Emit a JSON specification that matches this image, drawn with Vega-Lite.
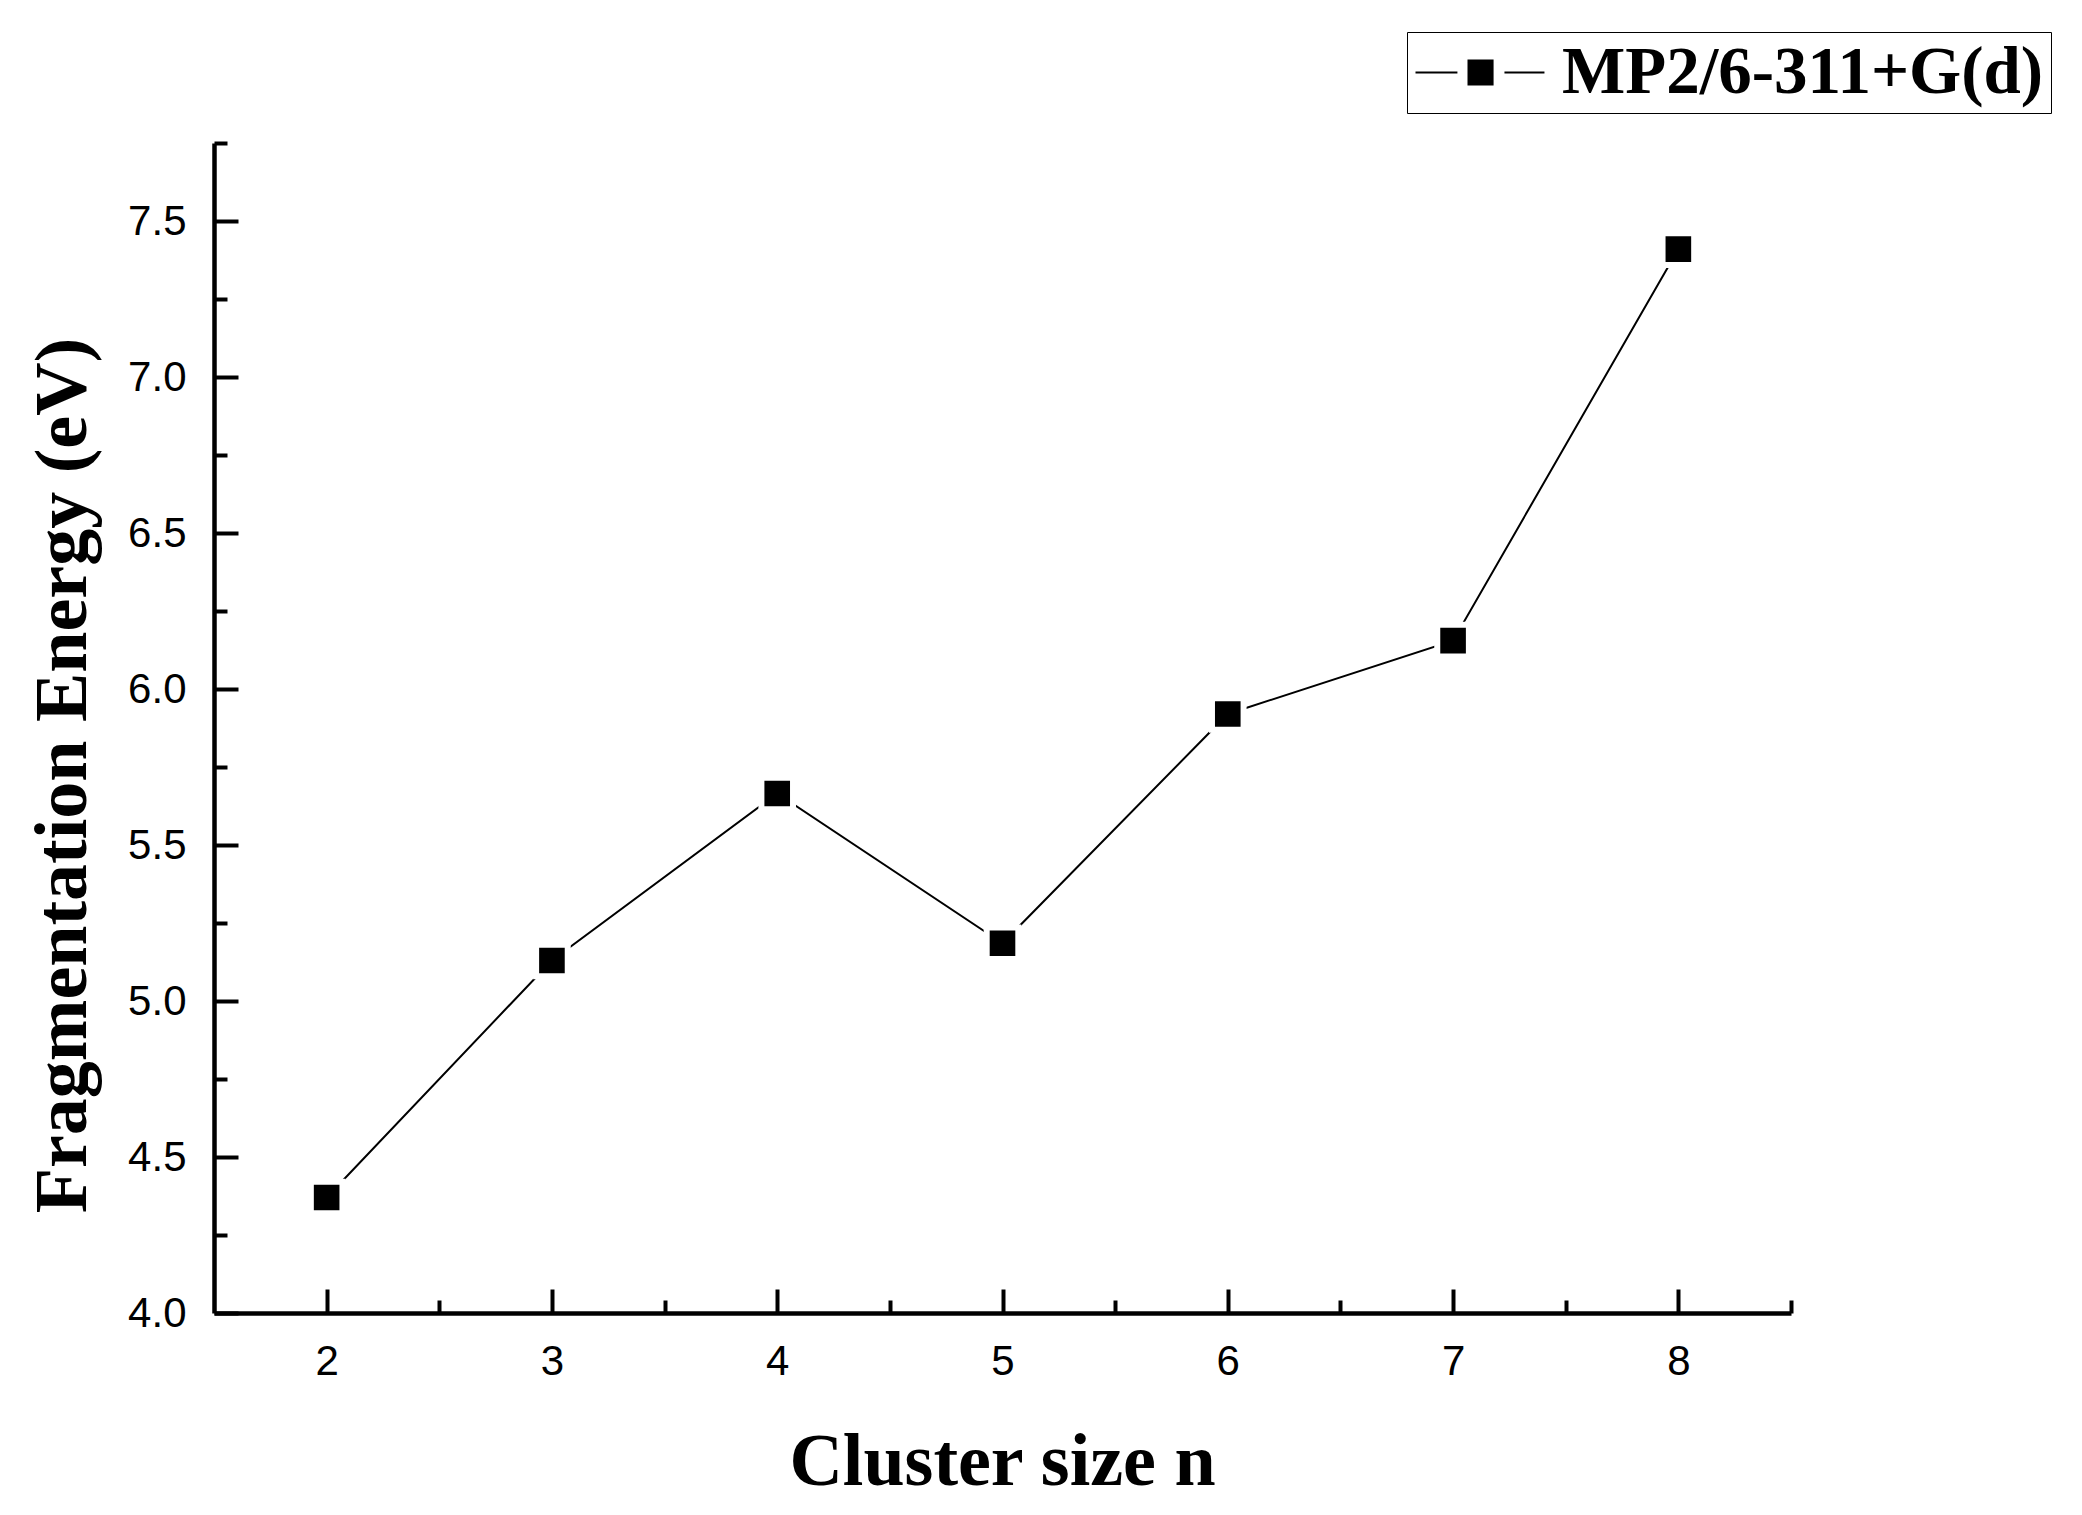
{
  "$schema": "https://vega.github.io/schema/vega-lite/v6.json",
  "autosize": {"type": "none"},
  "width": 1577,
  "height": 1170,
  "padding": {"left": 214, "top": 143, "right": 291, "bottom": 202},
  "background": "white",
  "config": {
    "view": {"stroke": null},
    "axis": {"grid": false, "domainColor": "black", "tickColor": "black", "labelColor": "black", "titleColor": "black"}
  },
  "data": {
    "values": [
      {"n": 2, "energy": 4.37, "method": "MP2/6-311+G(d)"},
      {"n": 3, "energy": 5.13, "method": "MP2/6-311+G(d)"},
      {"n": 4, "energy": 5.665, "method": "MP2/6-311+G(d)"},
      {"n": 5, "energy": 5.185, "method": "MP2/6-311+G(d)"},
      {"n": 6, "energy": 5.92, "method": "MP2/6-311+G(d)"},
      {"n": 7, "energy": 6.155, "method": "MP2/6-311+G(d)"},
      {"n": 8, "energy": 7.41, "method": "MP2/6-311+G(d)"}
    ]
  },
  "resolve": {"axis": {"x": "independent", "y": "independent"}},
  "layer": [
    {
      "mark": {"type": "line", "strokeWidth": 2, "color": "black"},
      "encoding": {
        "x": {
          "field": "n", "type": "quantitative",
          "scale": {"domain": [1.5, 8.5], "nice": false, "zero": false},
          "axis": {"orient": "bottom", "values": [2.5, 3.5, 4.5, 5.5, 6.5, 7.5, 8.5], "labels": false, "domain": false, "title": null, "tickSize": -13, "tickWidth": 4}
        },
        "y": {
          "field": "energy", "type": "quantitative",
          "scale": {"domain": [4, 7.75], "nice": false, "zero": false},
          "axis": {"orient": "left", "values": [4.25, 4.75, 5.25, 5.75, 6.25, 6.75, 7.25, 7.75], "labels": false, "domain": false, "title": null, "tickSize": -13, "tickWidth": 4}
        }
      }
    },
    {
      "mark": {"type": "point", "shape": "square", "filled": true, "size": 1000, "opacity": 1, "stroke": "white", "strokeWidth": 6, "strokeOpacity": 1},
      "encoding": {
        "x": {
          "field": "n", "type": "quantitative",
          "axis": {
            "orient": "bottom", "values": [2, 3, 4, 5, 6, 7, 8], "format": "d",
            "tickSize": -24, "tickWidth": 4, "domainWidth": 4.5,
            "labelFont": "Liberation Sans", "labelFontSize": 42, "labelPadding": 52,
            "title": "Cluster size n", "titleFont": "Liberation Serif", "titleFontWeight": "bold", "titleFontSize": 74,
            "titleX": 788, "titleY": 171, "titleBaseline": "alphabetic", "titleAlign": "center"
          }
        },
        "y": {
          "field": "energy", "type": "quantitative",
          "axis": {
            "orient": "left", "values": [4.0, 4.5, 5.0, 5.5, 6.0, 6.5, 7.0, 7.5], "format": ".1f",
            "tickSize": -24, "tickWidth": 4, "domainWidth": 4.5,
            "labelFont": "Liberation Sans", "labelFontSize": 42, "labelPadding": 52,
            "title": "Fragmentation Energy (eV)", "titleFont": "Liberation Serif", "titleFontWeight": "bold", "titleFontSize": 74,
            "titleX": -129, "titleY": 632, "titleAngle": -90, "titleBaseline": "alphabetic", "titleAlign": "center"
          }
        },
        "color": {
          "field": "method", "type": "nominal",
          "scale": {"range": ["black"]},
          "legend": {
            "title": null, "orient": "none", "legendX": 1193, "legendY": -111,
            "strokeColor": "black", "fillColor": "white", "padding": 7,
            "symbolType": "M-1,-0.031H0.31V0.031H-1Z M0.625,-0.406H1.44V0.406H0.625Z M1.78,-0.031H3.03V0.031H1.78Z",
            "symbolSize": 4096, "labelOffset": 81,
            "symbolFillColor": "black", "symbolStrokeWidth": 0,
            "labelFont": "Liberation Serif", "labelFontWeight": "bold", "labelFontSize": 67, "labelColor": "black", "labelLimit": 0,
            "encode": {
              "legend": {"update": {"strokeWidth": {"value": 2.5}}},
              "symbols": {
                "update": {
                  "shape": {"value": "M-1,-0.031H0.31V0.031H-1Z M0.625,-0.406H1.44V0.406H0.625Z M1.78,-0.031H3.03V0.031H1.78Z"},
                  "fill": {"value": "black"},
                  "strokeWidth": {"value": 0},
                  "opacity": {"value": 1}
                }
              }
            }
          }
        }
      }
    }
  ]
}
